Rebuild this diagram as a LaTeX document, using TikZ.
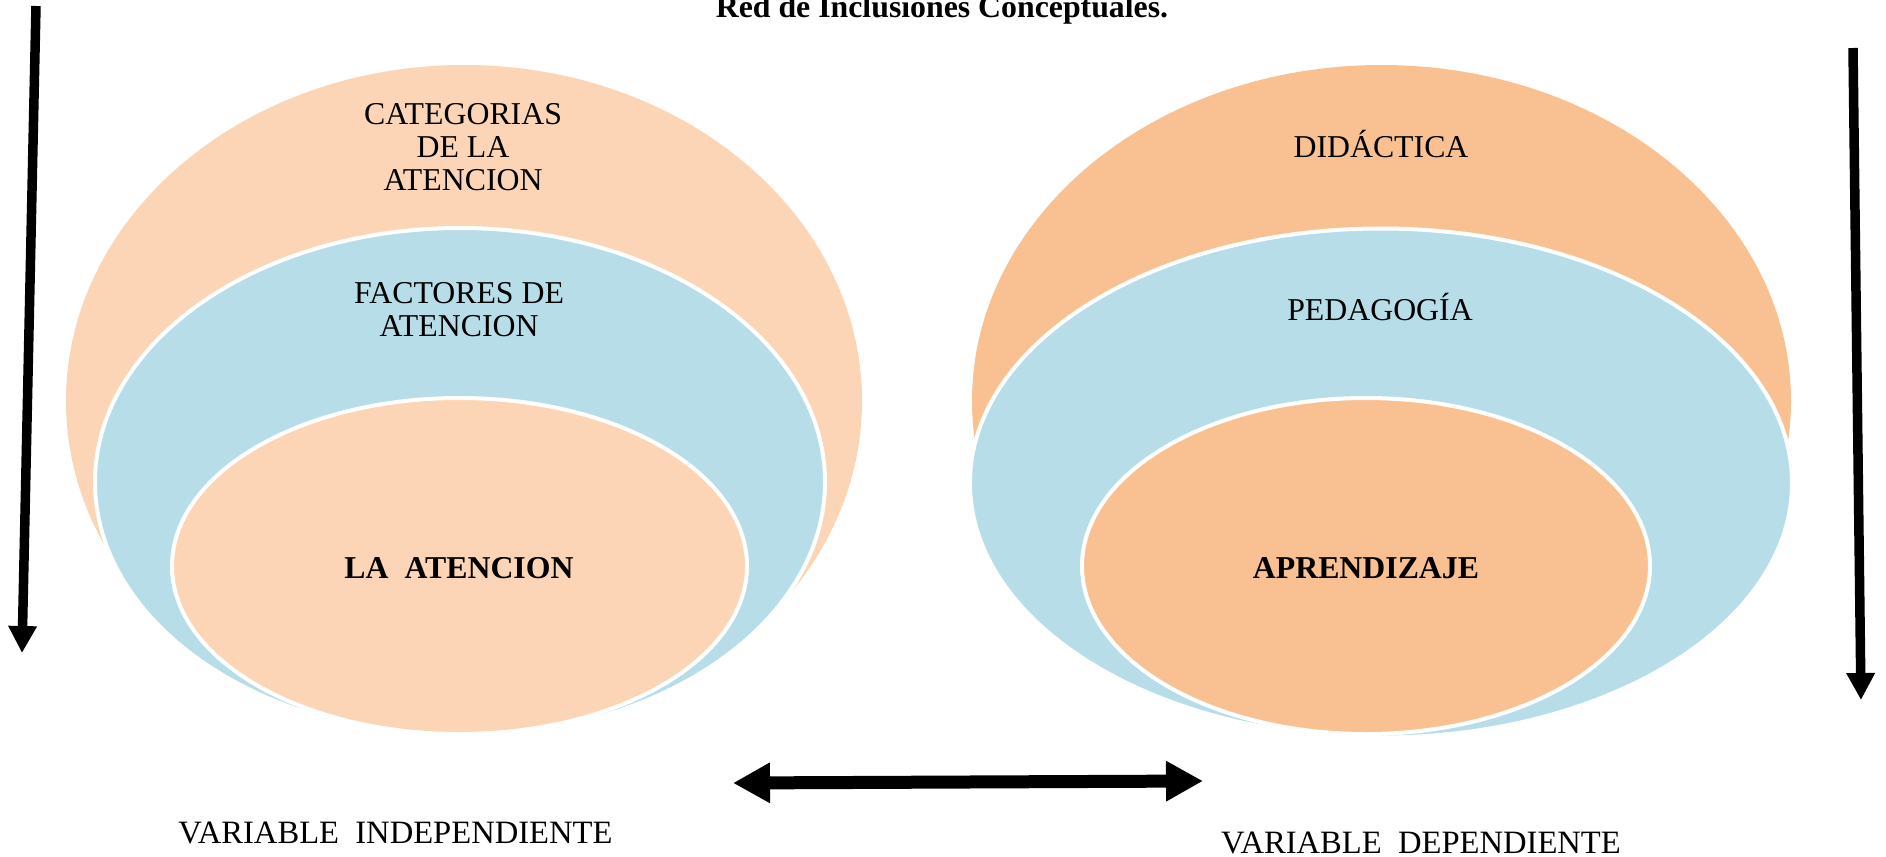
\documentclass[tikz,border=0pt]{standalone}
\usepackage{fontspec}
\setmainfont{Liberation Serif}
\usetikzlibrary{shapes.geometric,arrows.meta}
\definecolor{peachL}{HTML}{FBD5B5}
\definecolor{peachD}{HTML}{F9C191}
\definecolor{blueL}{HTML}{B7DDE8}
\tikzset{
  blob/.style={ellipse, inner sep=0pt, outer sep=0pt},
  ring/.style={blob, draw=white, line width=2pt},
  lbl/.style={font=\fontsize{15.9}{16.4}\selectfont, inner sep=0pt, align=center, anchor=base},
  blbl/.style={lbl, font=\fontsize{15.9}{16.4}\selectfont\bfseries},
  vlbl/.style={lbl, font=\fontsize{16.3}{17}\selectfont},
  vline/.style={line width=4.75pt, -{Triangle[width=13.5pt,length=13.5pt]}},
  hline/.style={line width=6.5pt, {Triangle[width=19pt,length=18.5pt]}-{Triangle[width=19pt,length=18.5pt]}},
}
\begin{document}
\begin{tikzpicture}[x=0.5pt,y=-0.5pt]
\useasboundingbox[fill=white] (0,0) rectangle (1886,857);
% left group
\node[blob, fill=peachL, minimum width=398pt, minimum height=336pt] (lout) at (464,401) {};
\node[ring, fill=blueL, minimum width=365pt, minimum height=254pt] (lmid) at (460,482) {};
\node[ring, fill=peachL, minimum width=287.5pt, minimum height=168pt] (lin) at (459.5,566) {};
% right group
\node[blob, fill=peachD, minimum width=409.5pt, minimum height=336pt] (rout) at (1381.5,401) {};
\node[ring, fill=blueL, minimum width=411pt, minimum height=254.5pt] (rmid) at (1381,483) {};
\node[ring, fill=peachD, minimum width=284pt, minimum height=168pt] (rin) at (1366,566) {};
% texts (multi-line nodes: base = last line)
\node[blbl] (title) at (942,17) {Red de Inclusiones Conceptuales.};
\node[lbl] (t1) at (463,190) {CATEGORIAS\\DE LA\\ATENCION};
\node[lbl] (t2) at (459,336) {FACTORES DE\\ATENCION};
\node[blbl] (t3) at (459,578) {LA\ \ ATENCION};
\node[lbl] (t4) at (1381,157) {DIDÁCTICA};
\node[lbl] (t5) at (1380,320) {PEDAGOGÍA};
\node[blbl] (t6) at (1366,578) {APRENDIZAJE};
\node[vlbl] (v1) at (395.5,843) {VARIABLE\ \ INDEPENDIENTE};
\node[vlbl] (v2) at (1421,853) {VARIABLE\ \ DEPENDIENTE};
% arrows
\coordinate (la1) at (36,6);
\coordinate (la2) at (22,653);
\coordinate (ra1) at (1853,48);
\coordinate (ra2) at (1861,700);
\coordinate (ha1) at (733,783);
\coordinate (ha2) at (1203,781);
\draw[vline] (la1) -- (la2);
\draw[vline] (ra1) -- (ra2);
\draw[hline] (ha1) -- (ha2);
\end{tikzpicture}
\end{document}
